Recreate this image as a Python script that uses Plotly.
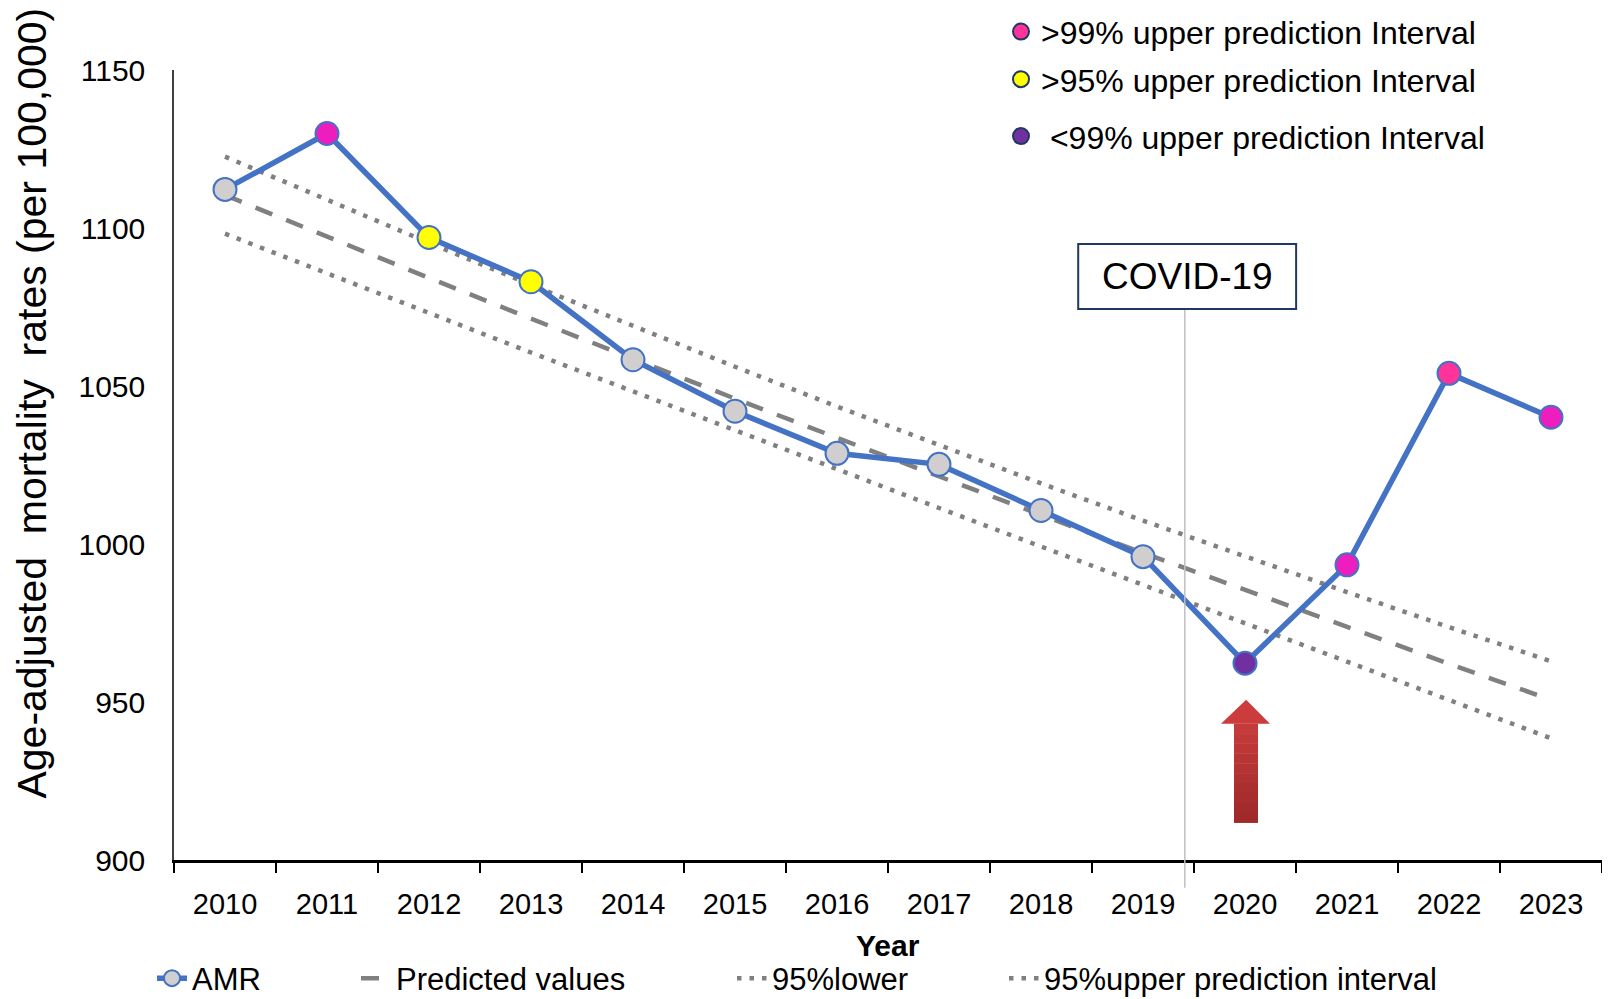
import plotly.graph_objects as go

# data
years = ['2010', '2011', '2012', '2013', '2014', '2015', '2016',
         '2017', '2018', '2019', '2020', '2021', '2022', '2023']
amr = [1112.2, 1129.9, 1097.0, 1083.0, 1058.3, 1042.0, 1028.7,
       1025.2, 1010.6, 996.0, 962.3, 993.4, 1054.0, 1040.1]
predicted = [1110.4, 1097.2, 1084.2, 1071.3, 1058.6, 1046.0, 1033.6,
             1021.3, 1009.2, 997.2, 985.4, 973.7, 962.1, 950.7]
upper95 = [1122.6, 1108.8, 1095.3, 1082.0, 1068.9, 1056.1, 1043.5,
           1031.2, 1019.2, 1007.4, 996.0, 984.8, 973.7, 962.9]
lower95 = [1098.2, 1085.6, 1073.1, 1060.6, 1048.3, 1035.9, 1023.7,
           1011.4, 999.2, 987.0, 974.8, 962.6, 950.5, 938.5]
# which interval each observed point falls in
status = ['in', '>99', '>95', '>95', 'in', 'in', 'in',
          'in', 'in', 'in', '<99', '>99', '>99b', '>99']

status_colors = {'in': '#D0CECE', '>99': '#EE1DBE', '>99b': '#FF3399',
                 '>95': '#FFFF00', '<99': '#7030A0'}
key_labels = ['>99% upper prediction Interval',
              '>95% upper prediction Interval',
              ' <99% upper prediction Interval']
key_colors = ['#FF3399', '#FFFF00', '#7030A0']
key_legends = ['legend5', 'legend5', 'legend6']

FONT = 'Liberation Sans, Arial, sans-serif'
BLUE = '#4472C4'
GREY = '#808080'
W, H = 1602, 991   # page body has an 8px margin

fig = go.Figure()

fig.add_trace(go.Scatter(
    x=years, y=predicted, mode='lines', name='Predicted values',
    line=dict(color=GREY, width=4.5, dash='18px,15px'), legend='legend2'))
fig.add_trace(go.Scatter(
    x=years, y=lower95, mode='lines', name='95%lower',
    line=dict(color=GREY, width=4.5, dash='4.5px,8px'), legend='legend3'))
fig.add_trace(go.Scatter(
    x=years, y=upper95, mode='lines', name='95%upper prediction interval',
    line=dict(color=GREY, width=4.5, dash='4.5px,8px'), legend='legend4'))
fig.add_trace(go.Scatter(
    x=years, y=amr, mode='lines+markers', name='AMR',
    line=dict(color=BLUE, width=5.5),
    marker=dict(size=23, color=[status_colors[s] for s in status],
                line=dict(color=BLUE, width=2)),
    legend='legend'))

# key for marker colours (top right)
for i, (lab, col, lg) in enumerate(zip(key_labels, key_colors, key_legends)):
    fig.add_trace(go.Scatter(
        x=[None], y=[None], mode='markers', name=lab, legend=lg,
        legendgroup='k%d' % i,
        marker=dict(size=16, color=col, line=dict(color='#1F3864', width=2))))

# COVID-19 marker line and box
fig.add_shape(type='line', xref='x', yref='paper', x0=9.41, x1=9.41,
              y0=-0.035, y1=0.6975, line=dict(color='#BFBFBF', width=1.5))
fig.add_shape(type='rect', xref='paper', yref='paper',
              x0=0.6332, x1=0.7858, y0=0.6975, y1=0.7797,
              line=dict(color='#1F3864', width=2), fillcolor='white')
fig.add_annotation(xref='paper', yref='paper', x=0.7095, y=0.7386,
                   xanchor='center', yanchor='middle',
                   text='COVID-19', showarrow=False,
                   font=dict(family=FONT, size=37, color='black'))

# red arrow pointing at 2020 (head + shaded shaft)
fig.add_shape(type='path', xref='paper', yref='paper',
              path='M 0.7332 0.1726 L 0.7508 0.2030 L 0.7675 0.1726 Z',
              fillcolor='#CC3C3C', line=dict(width=0))
n = 10
top, bot = 0.1726, 0.0474
c0, c1 = (200, 60, 60), (158, 40, 42)
for k in range(n):
    ya = top - (top - bot) * k / n
    yb = top - (top - bot) * (k + 1) / n
    t = (k + 0.5) / n
    col = 'rgb(%d,%d,%d)' % tuple(int(a + (b - a) * t) for a, b in zip(c0, c1))
    fig.add_shape(type='rect', xref='paper', yref='paper',
                  x0=0.7423, x1=0.7591, y0=yb - 0.0005, y1=ya,
                  fillcolor=col, line=dict(width=0))

# axis titles
fig.add_annotation(xref='paper', yref='paper', x=-0.0997, y=0.5786,
                   xanchor='center', yanchor='middle',
                   text='Age-adjusted  mortality  rates (per 100,000)',
                   textangle=-90, showarrow=False,
                   font=dict(family=FONT, size=41, color='black'))
fig.add_annotation(xref='paper', yref='paper', x=0.5, y=-0.1078,
                   xanchor='center', yanchor='middle',
                   text='<b>Year</b>', showarrow=False,
                   font=dict(family=FONT, size=30, color='black'))

leg = dict(orientation='h', yanchor='middle', xanchor='left',
           xref='container', yref='container',
           bgcolor='rgba(0,0,0,0)', font=dict(family=FONT, size=31, color='black'))
key = dict(orientation='v', x=993 / W, xanchor='left', yanchor='top',
           xref='container', yref='paper', tracegroupgap=3,
           bgcolor='rgba(0,0,0,0)', font=dict(family=FONT, size=32, color='black'))
legend_y = 1 - 970.5 / H
fig.update_layout(
    width=W, height=H,
    margin=dict(l=165.5, r=8, t=62, b=138.5, autoexpand=False),
    paper_bgcolor='white', plot_bgcolor='white',
    font=dict(family=FONT, color='black'),
    showlegend=True,
    legend=dict(leg, x=144 / W, y=legend_y),
    legend2=dict(leg, x=348 / W, y=legend_y),
    legend3=dict(leg, x=724 / W, y=legend_y),
    legend4=dict(leg, x=996 / W, y=legend_y),
    legend5=dict(key, y=1.0832),
    legend6=dict(key, y=0.9509),
)
fig.update_xaxes(type='category', range=[-0.5, 13.5], showgrid=False,
                 automargin=False,
                 showline=True, linecolor='black', linewidth=2.5,
                 ticks='outside', tickson='boundaries', ticklen=10,
                 tickwidth=2, tickcolor='black', ticklabelstandoff=16,
                 tickfont=dict(family=FONT, size=29, color='black'))
fig.update_yaxes(range=[900, 1150], dtick=50, showgrid=False, zeroline=False,
                 automargin=False,
                 showline=True, linecolor='#404040', linewidth=1.5,
                 ticks='', ticklabelstandoff=21,
                 tickfont=dict(family=FONT, size=30, color='black'))

fig.write_html('out.html')
